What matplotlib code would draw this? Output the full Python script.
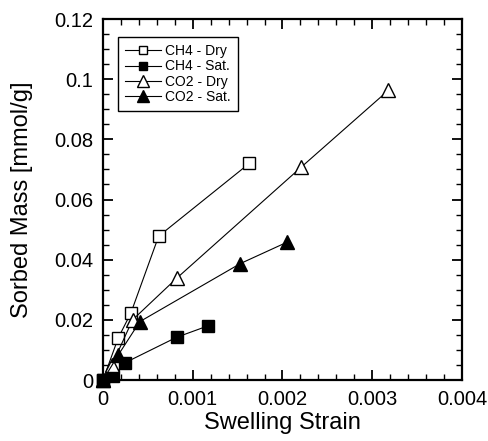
import matplotlib
matplotlib.use('Agg')
import matplotlib.pyplot as plt
from matplotlib.ticker import MultipleLocator, FuncFormatter

plt.rcParams['font.family'] = ['Liberation Sans', 'DejaVu Sans']

# data
ch4_dry_x = [0.0, 0.00017, 0.00031, 0.00062, 0.00163]
ch4_dry_y = [0.0, 0.014, 0.0222, 0.0478, 0.072]

ch4_sat_x = [0.0, 0.00011, 0.00025, 0.00082, 0.00117]
ch4_sat_y = [0.0, 0.0013, 0.0058, 0.0142, 0.018]

co2_dry_x = [0.0, 0.0001, 0.00033, 0.00082, 0.00221, 0.00318]
co2_dry_y = [0.0, 0.005, 0.020, 0.0338, 0.0708, 0.0963]

co2_sat_x = [0.0, 0.00017, 0.00041, 0.00153, 0.00205]
co2_sat_y = [0.0, 0.0083, 0.0194, 0.0387, 0.0458]

labels = ["CH4 - Dry", "CH4 - Sat.", "CO2 - Dry", "CO2 - Sat."]

fig = plt.figure(figsize=(4.89, 4.41), dpi=100)
ax = fig.add_axes([0.2106, 0.1383, 0.7342, 0.8186])

lw = 0.8
ax.plot(ch4_dry_x, ch4_dry_y, color='black', lw=lw, marker='s', ms=8,
        mfc='white', mec='black', mew=1.0, label=labels[0], clip_on=False)
ax.plot(ch4_sat_x, ch4_sat_y, color='black', lw=lw, marker='s', ms=8,
        mfc='black', mec='black', label=labels[1], clip_on=False)
ax.plot(co2_dry_x, co2_dry_y, color='black', lw=lw, marker='^', ms=10,
        mfc='white', mec='black', mew=1.0, label=labels[2], clip_on=False)
ax.plot(co2_sat_x, co2_sat_y, color='black', lw=lw, marker='^', ms=10,
        mfc='black', mec='black', label=labels[3], clip_on=False)

ax.set_xlim(0, 0.004)
ax.set_ylim(0, 0.12)
ax.xaxis.set_major_locator(MultipleLocator(0.001))
ax.xaxis.set_minor_locator(MultipleLocator(0.0002))
ax.yaxis.set_major_locator(MultipleLocator(0.02))
ax.yaxis.set_minor_locator(MultipleLocator(0.005))
fmt = FuncFormatter(lambda v, p: '0' if abs(v) < 1e-12 else ('%g' % round(v, 6)))
ax.xaxis.set_major_formatter(fmt)
ax.yaxis.set_major_formatter(fmt)

ax.tick_params(which='both', direction='in', top=True, right=True,
               labelsize=14.5, color='black')
ax.tick_params(which='major', length=7, width=1.3)
ax.tick_params(which='minor', length=4, width=1.0)
ax.tick_params(axis='x', which='major', pad=7)
ax.tick_params(axis='y', which='major', pad=7)
for s in ax.spines.values():
    s.set_linewidth(1.6)

ax.set_xlabel("Swelling Strain", fontsize=17, labelpad=2)
ax.set_ylabel("Sorbed Mass [mmol/g]", fontsize=17, labelpad=15)

leg = ax.legend(loc='upper left', bbox_to_anchor=(0.042, 0.95),
                fontsize=10, fancybox=False, edgecolor='black',
                framealpha=1, labelspacing=0.1, handlelength=2.6,
                handletextpad=0.3, borderpad=0.5, borderaxespad=0,
                markerscale=0.8)
leg.get_frame().set_linewidth(1.0)

plt.savefig('out.png', dpi=100)
